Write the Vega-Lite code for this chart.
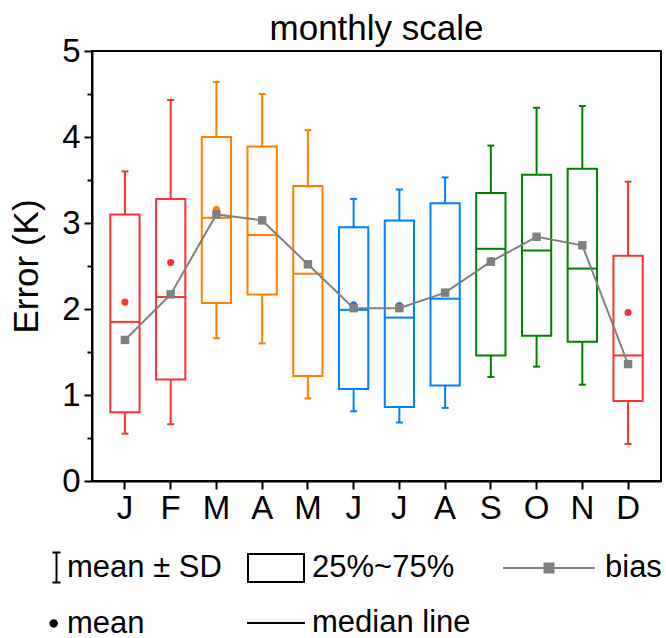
{
  "$schema": "https://vega.github.io/schema/vega-lite/v6.json",
  "width": 569,
  "height": 430,
  "autosize": {"type": "none"},
  "padding": {"left": 92, "top": 51, "right": 5, "bottom": 157},
  "background": "white",
  "config": {
    "font": "Liberation Sans",
    "view": {"stroke": "black", "strokeWidth": 2},
    "axis": {"grid": false, "labelColor": "black", "tickColor": "black", "domainColor": "black", "titleColor": "black"}
  },
  "title": {"text": "monthly scale", "fontSize": 35, "font": "Liberation Sans", "fontWeight": "normal", "color": "black", "anchor": "middle", "offset": -12},
  "datasets": {
    "stats": [
      {"month": "Jan", "grp": "winter", "lo": 0.55, "q1": 0.80, "med": 1.85, "q3": 3.10, "hi": 3.60, "mean": 2.08, "bias": 1.64},
      {"month": "Feb", "grp": "winter", "lo": 0.66, "q1": 1.18, "med": 2.14, "q3": 3.28, "hi": 4.43, "mean": 2.54, "bias": 2.17},
      {"month": "Mar", "grp": "spring", "lo": 1.66, "q1": 2.07, "med": 3.06, "q3": 4.00, "hi": 4.64, "mean": 3.16, "bias": 3.10},
      {"month": "Apr", "grp": "spring", "lo": 1.60, "q1": 2.17, "med": 2.86, "q3": 3.89, "hi": 4.50, "mean": 3.04, "bias": 3.03},
      {"month": "May", "grp": "spring", "lo": 0.96, "q1": 1.22, "med": 2.41, "q3": 3.43, "hi": 4.08, "mean": 2.52, "bias": 2.52},
      {"month": "Jun", "grp": "summer", "lo": 0.81, "q1": 1.07, "med": 1.99, "q3": 2.95, "hi": 3.28, "mean": 2.05, "bias": 2.01},
      {"month": "Jul", "grp": "summer", "lo": 0.68, "q1": 0.86, "med": 1.90, "q3": 3.03, "hi": 3.39, "mean": 2.04, "bias": 2.01},
      {"month": "Aug", "grp": "summer", "lo": 0.85, "q1": 1.11, "med": 2.12, "q3": 3.23, "hi": 3.53, "mean": 2.19, "bias": 2.19},
      {"month": "Sep", "grp": "autumn", "lo": 1.21, "q1": 1.46, "med": 2.70, "q3": 3.35, "hi": 3.90, "mean": 2.56, "bias": 2.55},
      {"month": "Oct", "grp": "autumn", "lo": 1.33, "q1": 1.69, "med": 2.68, "q3": 3.56, "hi": 4.34, "mean": 2.84, "bias": 2.84},
      {"month": "Nov", "grp": "autumn", "lo": 1.12, "q1": 1.62, "med": 2.47, "q3": 3.63, "hi": 4.36, "mean": 2.74, "bias": 2.74},
      {"month": "Dec", "grp": "winter", "lo": 0.43, "q1": 0.93, "med": 1.46, "q3": 2.62, "hi": 3.48, "mean": 1.96, "bias": 1.36}
    ]
  },
  "data": {"name": "stats"},
  "encoding": {
    "x": {
      "field": "month", "type": "nominal", "sort": null,
      "scale": {"type": "band", "paddingInner": 0.36, "paddingOuter": 0.4},
      "axis": {
        "title": null, "labelAngle": 0, "labelFontSize": 33, "labelPadding": 3,
        "labelExpr": "slice(datum.value, 0, 1)",
        "tickSize": 8, "tickWidth": 2, "domainWidth": 2
      }
    }
  },
  "resolve": {
    "axis": {"y": "independent"},
    "scale": {"shape": "independent"},
    "legend": {"shape": "independent"}
  },
  "layer": [
    {
      "mark": {"type": "rule", "strokeWidth": 2},
      "encoding": {
        "y": {
          "field": "lo", "type": "quantitative",
          "scale": {"domain": [0, 5], "nice": false, "zero": true},
          "axis": {
            "values": [0, 1, 2, 3, 4, 5], "format": "d", "orient": "left",
            "labelFontSize": 33, "labelPadding": 4, "tickSize": 8, "tickWidth": 2, "domainWidth": 2,
            "title": "Error (K)", "titleFontSize": 35, "titleFontWeight": "normal", "titlePadding": 17
          }
        },
        "y2": {"field": "hi"},
        "color": {"field": "grp", "type": "nominal", "legend": null,
          "scale": {"domain": ["winter", "spring", "summer", "autumn"], "range": ["#FF3030", "#FF8000", "#0080FF", "#008000"]}}
      }
    },
    {
      "mark": {"type": "tick", "size": 7, "thickness": 2, "opacity": 1},
      "encoding": {
        "y": {"field": "lo", "type": "quantitative", "axis": null},
        "color": {"field": "grp", "type": "nominal", "legend": null}
      }
    },
    {
      "mark": {"type": "tick", "size": 7, "thickness": 2, "opacity": 1},
      "encoding": {
        "y": {"field": "hi", "type": "quantitative", "axis": null},
        "color": {"field": "grp", "type": "nominal", "legend": null}
      }
    },
    {
      "mark": {"type": "bar", "fill": "white", "strokeWidth": 2, "opacity": 1},
      "encoding": {
        "y": {"field": "q1", "type": "quantitative", "axis": null},
        "y2": {"field": "q3"},
        "stroke": {"field": "grp", "type": "nominal", "legend": null,
          "scale": {"domain": ["winter", "spring", "summer", "autumn"], "range": ["#FF3030", "#FF8000", "#0080FF", "#008000"]}}
      }
    },
    {
      "mark": {"type": "tick", "size": 29, "thickness": 2, "opacity": 1},
      "encoding": {
        "y": {"field": "med", "type": "quantitative", "axis": null},
        "color": {"field": "grp", "type": "nominal", "legend": null}
      }
    },
    {
      "mark": {"type": "point", "shape": "circle", "filled": true, "size": 50, "opacity": 1},
      "encoding": {
        "y": {"field": "mean", "type": "quantitative", "axis": null},
        "color": {"field": "grp", "type": "nominal", "legend": null}
      }
    },
    {
      "mark": {"type": "line", "color": "#808080", "strokeWidth": 2},
      "encoding": {
        "y": {"field": "bias", "type": "quantitative", "axis": null}
      }
    },
    {
      "mark": {"type": "point", "shape": "square", "filled": true, "size": 72, "color": "#808080", "opacity": 1},
      "encoding": {
        "y": {"field": "bias", "type": "quantitative", "axis": null}
      }
    },
    {
      "mark": {"type": "tick", "opacity": 0},
      "encoding": {
        "y": {
          "field": "bias", "type": "quantitative",
          "axis": {
            "orient": "left", "values": [0.5, 1.5, 2.5, 3.5, 4.5],
            "labels": false, "domain": false, "title": null, "tickSize": 5, "tickWidth": 2
          }
        }
      }
    },
    {
      "data": {"values": [{"k1": "mean ± SD"}, {"k1": "mean"}]},
      "transform": [{"filter": "false"}],
      "mark": {"type": "point", "filled": true, "color": "black", "opacity": 1},
      "encoding": {
        "shape": {
          "field": "k1", "type": "nominal",
          "scale": {
            "domain": ["mean ± SD", "mean"],
            "range": [
              "M-0.57,-2.29H0.57V-2.0H-0.57Z M-0.57,2.0H0.57V2.29H-0.57Z M-0.14,-2.0H0.14V2.0H-0.14Z",
              "M-1.0,0A0.6,0.6 0 1,0 0.2,0A0.6,0.6 0 1,0 -1.0,0Z"
            ]
          },
          "legend": {
            "orient": "none", "legendX": -51, "legendY": 501, "direction": "vertical", "title": null,
            "padding": 0, "symbolSize": 196, "symbolFillColor": "black", "symbolStrokeWidth": 0, "symbolOpacity": 1,
            "labelFontSize": 31, "labelColor": "black", "labelOffset": -5, "labelLimit": 400, "rowPadding": 23
          }
        }
      }
    },
    {
      "data": {"values": [{"k2": "25%~75%"}, {"k2": "median line"}]},
      "transform": [{"filter": "false"}],
      "mark": {"type": "point", "filled": true, "color": "black", "opacity": 1},
      "encoding": {
        "shape": {
          "field": "k2", "type": "nominal",
          "scale": {
            "domain": ["25%~75%", "median line"],
            "range": [
              "M-1,-0.517H1V0.517H-1Z M-0.931,-0.448V0.448H0.931V-0.448Z",
              "M-1,-0.035H1V0.035H-1Z"
            ]
          },
          "legend": {
            "orient": "none", "legendX": 155, "legendY": 488, "direction": "vertical", "title": null,
            "padding": 0, "symbolSize": 3364, "symbolFillColor": "black", "symbolStrokeWidth": 0, "symbolOpacity": 1,
            "labelFontSize": 31, "labelColor": "black", "labelOffset": 7, "labelLimit": 400, "rowPadding": 11
          }
        }
      }
    },
    {
      "data": {"values": [{"k3": "bias"}]},
      "transform": [{"filter": "false"}],
      "mark": {"type": "point", "filled": true, "color": "#808080", "opacity": 1},
      "encoding": {
        "shape": {
          "field": "k3", "type": "nominal",
          "scale": {
            "domain": ["bias"],
            "range": ["M-1,-0.022H1V0.022H-1Z M-0.12,-0.12H0.12V0.12H-0.12Z"]
          },
          "legend": {
            "orient": "none", "legendX": 411, "legendY": 471, "direction": "vertical", "title": null,
            "padding": 0, "symbolSize": 8464, "symbolFillColor": "#808080", "symbolStrokeWidth": 0, "symbolOpacity": 1,
            "labelFontSize": 31, "labelColor": "black", "labelOffset": 10, "labelLimit": 400
          }
        }
      }
    }
  ]
}
